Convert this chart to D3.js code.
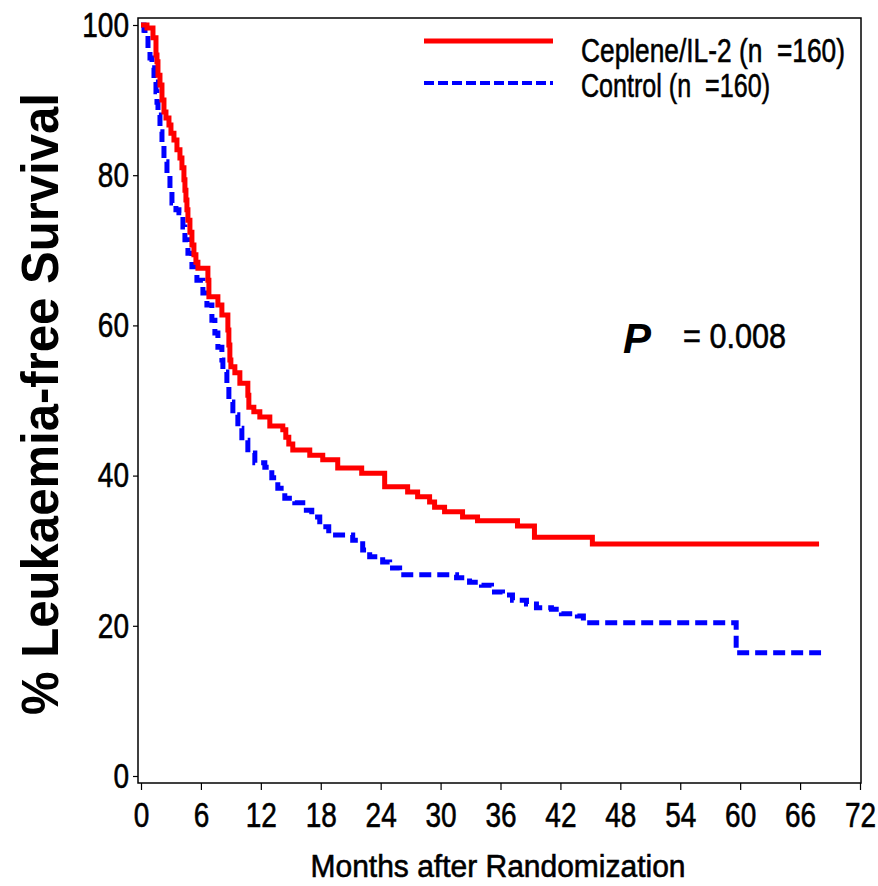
<!DOCTYPE html>
<html>
<head>
<meta charset="utf-8">
<script src="https://cdn.jsdelivr.net/npm/d3@7"></script>
<style>
  body { margin: 0; background: #fff; }
  svg { display: block; }
  text { font-family: "Liberation Sans", Arial, sans-serif; }
  .heavy { stroke: #000; stroke-width: 0.6px; }
</style>
</head>
<body>
<div id="chart"></div>
<script>
// Kaplan-Meier steps (months, % survival)
const ceplTime = [0, 0.6, 1.2, 1.5, 1.6, 1.7, 1.9, 2.1, 2.3, 2.5, 2.8, 3.0, 3.3, 3.6, 3.9, 4.1, 4.3, 4.4, 4.5, 4.6, 4.7, 4.9, 5.1, 5.3, 5.5, 5.7, 6.7, 6.8, 7.7, 8.1, 8.7, 8.8, 8.9, 9.0, 9.4, 9.9, 10.7, 10.8, 11.3, 11.9, 12.9, 14.2, 14.5, 14.8, 15.2, 16.9, 18.2, 19.7, 22.1, 24.4, 26.7, 27.7, 28.9, 29.4, 30.4, 32.2, 33.7, 37.7, 39.4, 45.2];
const ceplSurv = [100, 99.6, 98.3, 96.0, 95.1, 93.3, 92.0, 90.0, 88.4, 87.6, 86.7, 85.6, 84.7, 83.4, 82.3, 81.0, 79.4, 78.0, 76.7, 75.4, 74.0, 72.4, 70.7, 69.4, 68.4, 67.6, 66.0, 63.8, 62.7, 61.4, 59.4, 57.4, 55.4, 54.5, 53.7, 52.3, 50.7, 49.1, 48.5, 47.8, 46.6, 46.1, 45.1, 44.2, 43.4, 42.7, 42.1, 41.0, 40.3, 38.5, 37.8, 37.2, 36.5, 35.8, 35.2, 34.5, 34.0, 33.3, 31.8, 30.9];
const ceplEnd = 67.9;

const ctrlTime = [0, 0.3, 0.4, 0.7, 0.9, 1.1, 1.3, 1.5, 1.6, 1.7, 1.9, 2.1, 2.3, 2.6, 2.9, 3.1, 3.5, 3.8, 4.2, 4.4, 4.7, 5.1, 5.6, 6.2, 6.6, 7.1, 7.4, 7.7, 8.1, 8.2, 8.6, 8.8, 9.2, 9.7, 10.1, 10.7, 11.4, 12.4, 13.1, 13.7, 14.4, 15.4, 16.2, 17.1, 17.9, 18.8, 21.2, 22.2, 22.9, 24.2, 24.9, 25.9, 31.6, 32.9, 34.1, 35.1, 36.2, 37.2, 38.6, 39.6, 41.1, 42.1, 43.7, 44.3, 59.6];
const ctrlSurv = [100, 99.3, 98.7, 96.9, 95.6, 94.3, 92.4, 91.1, 89.7, 88.0, 85.8, 84.0, 81.8, 79.9, 78.0, 76.3, 75.4, 75.0, 73.1, 71.4, 69.6, 67.8, 66.0, 64.3, 62.7, 60.7, 59.0, 57.1, 55.4, 53.8, 51.8, 49.8, 48.1, 46.3, 44.7, 43.0, 41.7, 41.1, 39.7, 38.3, 37.0, 36.4, 35.4, 34.5, 33.2, 32.1, 31.4, 30.1, 29.2, 28.5, 27.7, 26.8, 26.4, 25.8, 25.4, 24.5, 24.1, 23.4, 22.9, 22.4, 22.2, 21.6, 21.3, 20.4, 16.4];
const ctrlEnd = 68.1;

const xTicks = [0, 6, 12, 18, 24, 30, 36, 42, 48, 54, 60, 66, 72];
const yTicks = [0, 20, 40, 60, 80, 100];
const seriesNames = ["Ceplene/IL-2 (n  =160)", "Control (n  =160)"];
const pLabel = "= 0.008";

const width = 878, height = 886;
const frame = { left: 138, right: 861, top: 18, bottom: 783 };

const svg = d3.select("#chart").append("svg")
    .attr("width", width)
    .attr("height", height);

// squeeze text horizontally, the original uses a condensed face
function condense(sel, k) {
    sel.each(function () {
        const w = this.getComputedTextLength();
        d3.select(this).attr("textLength", w * k).attr("lengthAdjust", "spacingAndGlyphs");
    });
}
function fitTo(sel, w) {
    sel.attr("textLength", w).attr("lengthAdjust", "spacingAndGlyphs");
}

const x = d3.scaleLinear().domain([0, 72]).range([141, 860]);
const y = d3.scaleLinear().domain([0, 100]).range([776, 25]);

// frame
svg.append("rect")
    .attr("x", frame.left).attr("y", frame.top)
    .attr("width", frame.right - frame.left)
    .attr("height", frame.bottom - frame.top)
    .attr("fill", "none").attr("stroke", "#000").attr("stroke-width", 1.5);

// x axis
const xAxis = svg.append("g")
    .attr("transform", `translate(0, ${frame.bottom})`)
    .call(d3.axisBottom(x).tickValues(xTicks).tickSize(7).tickPadding(12));
xAxis.select(".domain").remove();
xAxis.selectAll("line").attr("stroke-width", 1.2);
xAxis.selectAll("text")
    .attr("class", "heavy")
    .style("font-family", "'Liberation Sans', Arial, sans-serif")
    .style("font-size", "35px").attr("fill", "#000")
    .call(condense, 0.8);

// y axis
const yAxis = svg.append("g")
    .attr("transform", `translate(${frame.left}, 0)`)
    .call(d3.axisLeft(y).tickValues(yTicks).tickSize(5).tickPadding(4));
yAxis.select(".domain").remove();
yAxis.selectAll("line").attr("stroke-width", 1.2);
yAxis.selectAll("text")
    .attr("class", "heavy")
    .style("font-family", "'Liberation Sans', Arial, sans-serif")
    .style("font-size", "35px").attr("fill", "#000")
    .call(condense, 0.8);

// axis titles
svg.append("text")
    .attr("class", "heavy")
    .attr("x", 498).attr("y", 877)
    .attr("text-anchor", "middle")
    .style("font-size", "32px")
    .text("Months after Randomization")
    .call(fitTo, 375);

svg.append("text")
    .attr("transform", "translate(58, 404) rotate(-90)")
    .attr("text-anchor", "middle")
    .style("font-weight", "bold")
    .style("font-size", "52px")
    .text("% Leukaemia-free Survival")
    .call(fitTo, 622);

// survival curves
const line = d3.line()
    .x(d => x(d[0]))
    .y(d => y(d[1]))
    .curve(d3.curveStepAfter);

const ceplData = ceplTime.map((t, i) => [t, ceplSurv[i]]);
ceplData.push([ceplEnd, ceplSurv[ceplSurv.length - 1]]);
const ctrlData = ctrlTime.map((t, i) => [t, ctrlSurv[i]]);
ctrlData.push([ctrlEnd, ctrlSurv[ctrlSurv.length - 1]]);

svg.append("path")
    .datum(ctrlData)
    .attr("d", line)
    .attr("fill", "none")
    .attr("stroke", "#0000ff")
    .attr("stroke-width", 5)
    .attr("stroke-dasharray", "12,6");

svg.append("path")
    .datum(ceplData)
    .attr("d", line)
    .attr("fill", "none")
    .attr("stroke", "#ff0000")
    .attr("stroke-width", 5);

// legend
const legend = svg.append("g");
legend.append("line")
    .attr("x1", 424).attr("x2", 553).attr("y1", 41).attr("y2", 41)
    .attr("stroke", "#ff0000").attr("stroke-width", 5);
legend.append("line")
    .attr("x1", 424).attr("x2", 553).attr("y1", 83).attr("y2", 83)
    .attr("stroke", "#0000ff").attr("stroke-width", 4)
    .attr("stroke-dasharray", "10,4");
legend.append("text")
    .attr("class", "heavy")
    .attr("x", 581).attr("y", 62)
    .style("font-size", "34px")
    .style("white-space", "pre")
    .text(seriesNames[0])
    .call(fitTo, 264);
legend.append("text")
    .attr("class", "heavy")
    .attr("x", 581).attr("y", 97)
    .style("font-size", "34px")
    .style("white-space", "pre")
    .text(seriesNames[1])
    .call(fitTo, 189);

// p-value
svg.append("text")
    .attr("x", 623).attr("y", 353)
    .style("font-weight", "bold")
    .style("font-style", "italic")
    .style("font-size", "42px")
    .text("P");
svg.append("text")
    .attr("class", "heavy")
    .attr("x", 683).attr("y", 348)
    .style("font-size", "35px")
    .text(pLabel)
    .call(fitTo, 103);
</script>
</body>
</html>
